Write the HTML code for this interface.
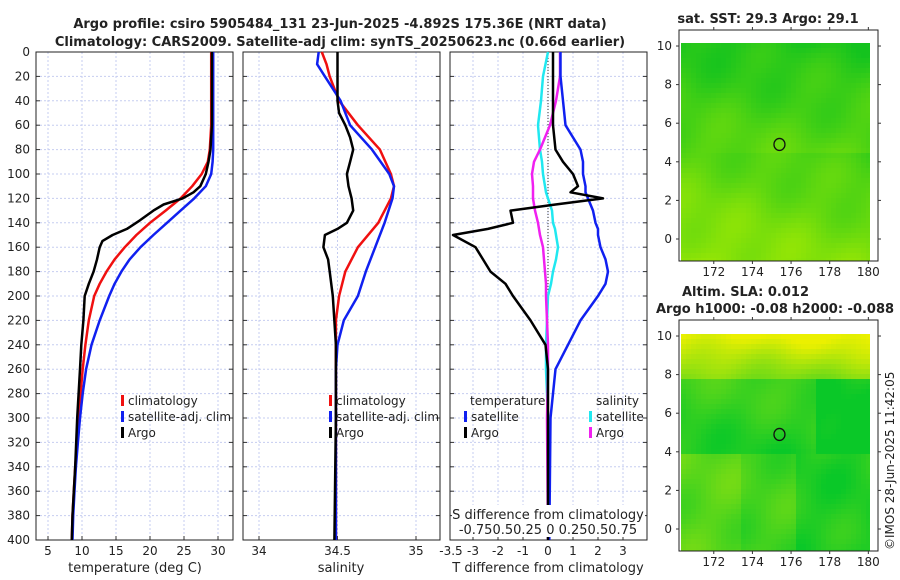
<!DOCTYPE html>
<html><head><meta charset="utf-8"><style>
body{margin:0;background:#fff;}
svg{display:block;font-family:"DejaVu Sans","Liberation Sans",sans-serif;}
text{fill:#222;}
</style></head><body>
<svg id="c" width="900" height="580" viewBox="0 0 900 580">
<text x="340" y="28" font-size="13" font-weight="bold" text-anchor="middle">Argo profile: csiro 5905484_131 23-Jun-2025 -4.892S 175.36E (NRT data)</text>
<text x="340" y="46" font-size="13" font-weight="bold" text-anchor="middle">Climatology: CARS2009. Satellite-adj clim: synTS_20250623.nc (0.66d earlier)</text>
<text x="768" y="23" font-size="13" font-weight="bold" text-anchor="middle">sat. SST: 29.3 Argo: 29.1</text>
<text x="682" y="296" font-size="13" font-weight="bold">Altim. SLA: 0.012</text>
<text x="656" y="313" font-size="13" font-weight="bold">Argo h1000: -0.08 h2000: -0.088</text>
<text transform="translate(894,550) rotate(-90)" font-size="12">©IMOS 28-Jun-2025 11:42:05</text>
<g id="g"></g>
</svg>
<script>
// depth grids and values
const tDepth=[0,40,60,80,90,100,110,120,130,140,150,160,170,180,190,200,220,240,260,280,300,320,340,360,380,400];
const tClim=[29.0,29.0,29.0,28.8,28.5,27.6,26.2,24.5,22.3,20.0,18.0,16.3,14.8,13.6,12.6,11.8,11.0,10.5,10.1,9.8,9.5,9.3,9.0,8.8,8.6,8.5];
const tSat=[29.3,29.3,29.3,29.3,29.2,29.0,28.2,26.5,24.5,22.5,20.5,18.6,17.0,15.8,14.8,14.0,12.6,11.4,10.6,10.1,9.7,9.4,9.1,8.9,8.7,8.6];
const aDepth=[0,60,80,90,100,110,115,120,125,130,138,145,150,155,160,170,180,190,200,220,240,260,300,340,380,400];
const tArgo=[29.1,29.1,28.9,28.6,28.2,27.4,26.4,24.8,22.0,20.5,18.5,16.6,14.5,13.0,12.6,12.2,11.7,11.0,10.4,10.2,9.9,9.7,9.3,9.0,8.6,8.5];
const sDepth=[0,10,20,40,60,80,100,110,120,140,160,180,200,220,240,260,300,350,400];
const sClim=[34.40,34.43,34.45,34.51,34.63,34.77,34.84,34.86,34.84,34.76,34.63,34.55,34.51,34.49,34.49,34.49,34.49,34.49,34.49];
const sSat=[34.38,34.37,34.42,34.52,34.58,34.72,34.83,34.86,34.85,34.80,34.74,34.68,34.63,34.54,34.50,34.49,34.49,34.49,34.49];
const saDepth=[0,20,40,50,60,70,80,90,100,110,120,130,140,145,150,160,170,180,200,240,300,400];
const sArgo=[34.50,34.50,34.50,34.51,34.55,34.58,34.60,34.58,34.56,34.57,34.59,34.60,34.56,34.50,34.42,34.41,34.44,34.45,34.47,34.49,34.49,34.48];
const dDepth=[0,20,40,60,80,90,100,110,115,120,125,130,140,145,150,160,170,180,190,200,220,240,260,300,400];
const dtArgo=[0.2,0.2,0.2,0.2,0.3,0.6,1.0,1.2,0.9,2.2,0.3,-1.5,-1.4,-2.4,-3.8,-2.9,-2.6,-2.3,-1.7,-1.4,-0.7,-0.1,0.0,0.0,0.0];
const dtSat=[0.5,0.5,0.6,0.7,1.3,1.4,1.4,1.5,1.5,1.6,1.7,1.8,1.9,2.0,2.0,2.1,2.3,2.4,2.3,2.0,1.3,0.8,0.3,0.1,0.05];
const dsSat=[0.0,-0.05,-0.07,-0.1,-0.08,-0.06,-0.05,-0.03,-0.02,0.0,0.02,0.04,0.05,0.07,0.08,0.1,0.08,0.05,0.03,0.0,-0.01,-0.02,-0.02,0.0,0.0];
const dsArgo=[0.12,0.12,0.08,0.02,-0.08,-0.14,-0.16,-0.15,-0.15,-0.15,-0.14,-0.13,-0.1,-0.09,-0.08,-0.05,-0.04,-0.03,-0.02,-0.02,-0.01,0.0,0.0,-0.01,0.0];
const depthTicks=[0,20,40,60,80,100,120,140,160,180,200,220,240,260,280,300,320,340,360,380,400];
const tTicks=[5,10,15,20,25,30];
const sTicks=[34,34.5,35];
const dTicks=[-3,-2,-1,0,1,2,3];
const latTicks=[0,2,4,6,8,10];
const lonTicks=[172,174,176,178,180];

const NS='http://www.w3.org/2000/svg';
const G=document.getElementById('g');
function mk(tag,at,par){const e=document.createElementNS(NS,tag);for(const k in at)e.setAttribute(k,at[k]);(par||G).appendChild(e);return e;}
const Y=d=>52+d*(540-52)/400;
const xT=t=>48+(t-5)*6.8;
const xS=s=>259+(s-34)*157;
const xD=v=>548+v*25;
const xDS=v=>548+v*100;
const panels=[[36,233],[243,440],[450,647]];
const tickX=[tTicks.map(xT),sTicks.map(xS),dTicks.map(xD)];
const tickL=[tTicks,sTicks,dTicks];
const names=['temperature','salinity','difference'];
panels.forEach((p,i)=>{
  const w=p[1]-p[0];
  depthTicks.forEach(d=>{const l=mk('line',{x1:p[0],x2:p[1],y1:Y(d),y2:Y(d),stroke:'#c6cdf0','stroke-dasharray':'2,2','stroke-width':1});
    
    
    mk('line',{x1:p[0],x2:p[0]+4,y1:Y(d),y2:Y(d),stroke:'#333'});mk('line',{x1:p[1]-4,x2:p[1],y1:Y(d),y2:Y(d),stroke:'#333'});});
  tickX[i].forEach((x,j)=>{const l=mk('line',{x1:x,x2:x,y1:52,y2:540,stroke:'#c6cdf0','stroke-dasharray':'2,2'});
    
    
    mk('line',{x1:x,x2:x,y1:536,y2:540,stroke:'#333'});
    const t=mk('text',{x:x,y:555,'font-size':12,'text-anchor':'middle'});t.textContent=tickL[i][j];
    
    });
  const r=mk('rect',{x:p[0],y:52,width:w,height:488,fill:'none',stroke:'#222','stroke-width':1});
  
  
});
depthTicks.forEach(d=>{const t=mk('text',{x:30,y:Y(d)+4,'font-size':12,'text-anchor':'end'});t.textContent=d;
  
  });
const tx=mk('text',{x:451,y:555,'font-size':12,'text-anchor':'middle'});tx.textContent='-3.5';
mk('line',{x1:xD(0),x2:xD(0),y1:52,y2:540,stroke:'#333','stroke-dasharray':'1,2'});
function line(xs,ds,fx,col,name,w){
  const pts=xs.map((v,k)=>fx(v).toFixed(1)+','+Y(ds[k]).toFixed(1)).join(' ');
  const e=mk('polyline',{points:pts,fill:'none',stroke:col,'stroke-width':w||2.5,'stroke-linejoin':'round'});
  
  
}
line(tClim,tDepth,xT,'#f01010','temp-climatology-line');
line(tSat,tDepth,xT,'#1020f0','temp-satellite-line');
line(tArgo,aDepth,xT,'#000','temp-argo-line');
line(sClim,sDepth,xS,'#f01010','sal-climatology-line');
line(sSat,sDepth,xS,'#1020f0','sal-satellite-line');
line(sArgo,saDepth,xS,'#000','sal-argo-line');
line(dsSat,dDepth,xDS,'#20e8f0','sdiff-satellite-line');
line(dsArgo,dDepth,xDS,'#f020f0','sdiff-argo-line');
line(dtSat,dDepth,xD,'#1020f0','tdiff-satellite-line');
line(dtArgo,dDepth,xD,'#000','tdiff-argo-line');
// legends
function leg(x,y,col,txt,name){
  if(col)mk('rect',{x:x,y:y-10,width:3,height:11,fill:col});
  const t=mk('text',{x:x+(col?7:0),y:y,'font-size':12});t.textContent=txt;
  
  
}
[[121,'temp'],[329,'sal']].forEach(([x,n])=>{
  leg(x,405,'#f01010','climatology',n+'-legend-climatology');
  leg(x,421,'#1020f0','satellite-adj. clim',n+'-legend-satellite');
  leg(x,437,'#000','Argo',n+'-legend-argo');});
const cover=mk('rect',{x:441,y:395,width:8,height:50,fill:'#fff'});
leg(470,405,null,'temperature','tdiff-legend-header');
leg(464,421,'#1020f0','satellite','tdiff-legend-satellite');
leg(464,437,'#000','Argo','tdiff-legend-argo');
leg(596,405,null,'salinity','sdiff-legend-header');
leg(589,421,'#20e8f0','satellite','sdiff-legend-satellite');
leg(589,437,'#f020f0','Argo','sdiff-legend-argo');
mk('rect',{x:452,y:505,width:193,height:32,fill:'#fff'});
let t=mk('text',{x:548,y:519,'font-size':13,'text-anchor':'middle'});t.textContent='S difference from climatology';


t=mk('text',{x:548,y:534,'font-size':13,'text-anchor':'middle'});t.textContent='-0.750.50.25 0  0.250.50.75';


[['temperature (deg C)',135],['salinity',341],['T difference from climatology',548]].forEach(([s,x])=>{
  const e=mk('text',{x:x,y:572,'font-size':13,'text-anchor':'middle'});e.textContent=s;
  
  });
// maps
function map(top,bot,imgTop,kind,name){
  const L=679,R=878;
  const fy=lat=>top+(10.83-lat)*((bot-top)/11.97);
  const fx=lon=>L+(lon-170.2)*(R-L)/10.3;
  const cs=5;
  for(let y=imgTop;y<bot;y+=cs){for(let x=681;x<870;x+=cs){
    const u=(x-681)/189,v=(y-imgTop)/(bot-imgTop);
    let c;
    const n=Math.sin(x*0.09+y*0.05)*0.5+Math.sin(x*0.031-y*0.07)*0.5;
    if(kind===1){
      const g=Math.min(1,Math.max(0,v*0.9+0.15*n-0.2*u*(v>0.5?1:0)+0.1));
      c='rgb('+Math.round(20+g*130)+','+Math.round(195+g*35)+','+Math.round(30-g*25)+')';
    }else{
      let g;
      if(v<0.2)g=1-v*2.5+0.1*n; else if(v<0.55)g=0.35-v*0.5+0.1*n-(u>0.7?0.2:0); else g=0.25+0.12*n-(u>0.6?0.15:0)+(u<0.3?0.1:0);
      g=Math.min(1,Math.max(0,g));
      c='rgb('+Math.round(10+g*225)+','+Math.round(200+g*40)+','+Math.round(40-g*40)+')';
    }
    mk('rect',{x:x,y:y,width:Math.min(cs,870-x),height:Math.min(cs,bot-y),fill:c});
  }}
  const f=mk('rect',{x:L,y:top,width:R-L,height:bot-top,fill:'none',stroke:'#222'});
  
  
  latTicks.forEach(l=>{mk('line',{x1:L,x2:L-3,y1:fy(l),y2:fy(l),stroke:'#333'});mk('line',{x1:R,x2:R+3,y1:fy(l),y2:fy(l),stroke:'#333'});
    const e=mk('text',{x:L-7,y:fy(l)+4,'font-size':12,'text-anchor':'end'});e.textContent=l;
    
    });
  lonTicks.forEach(l=>{mk('line',{x1:fx(l),x2:fx(l),y1:top,y2:top-3,stroke:'#333'});mk('line',{x1:fx(l),x2:fx(l),y1:bot,y2:bot+3,stroke:'#333'});
    const e=mk('text',{x:fx(l),y:bot+15,'font-size':12,'text-anchor':'middle'});e.textContent=l;
    
    });
  const c=mk('ellipse',{cx:fx(175.4),cy:fy(4.9),rx:5.5,ry:6,fill:'none',stroke:'#111','stroke-width':1.3});
  
  
}
map(30,261,43,1,'sst-map');
map(320,551,334,2,'sla-map');
</script>
</body></html>
